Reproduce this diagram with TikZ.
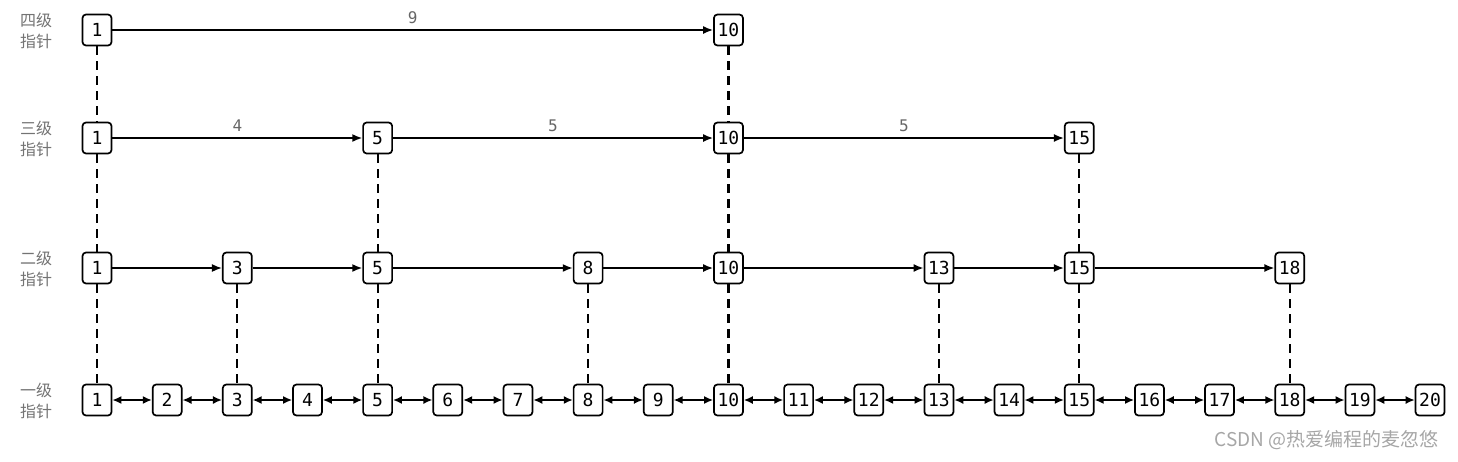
\documentclass[tikz,border=0pt]{standalone}
\usepackage{fontspec}
\setmonofont{DejaVu Sans Mono}
\newfontfamily\cjk{Noto Sans CJK SC}
\usetikzlibrary{arrows.meta}
\begin{document}
\begin{tikzpicture}[x=1pt,y=-1pt,
 box/.style={draw,line width=1.7pt,rounded corners=3.5pt,minimum width=29pt,minimum height=31pt,inner sep=0pt,font=\ttfamily\fontsize{18}{18}\selectfont,fill=white},
 link/.style={line width=1.6pt,-{Latex[length=10pt,width=8pt]}},
 dlink/.style={line width=1.6pt,{Latex[length=9pt,width=8pt]}-{Latex[length=9pt,width=8pt]}},
 vdash/.style={line width=2.1pt,dash pattern=on 9pt off 6pt},
 lvl/.style={font=\cjk\fontsize{16}{21}\selectfont,text=black!55,align=center},
 wlabel/.style={font=\ttfamily\fontsize{16}{16}\selectfont,text=black!60},
 wm/.style={font=\cjk\fontsize{19}{19}\selectfont,text=black!35}]
\useasboundingbox (0,0) rectangle (1458,461);
% level labels
\node[lvl] (L4) at (36,31) {四级\\指针};
\node[lvl] (L3) at (36,139) {三级\\指针};
\node[lvl] (L2) at (36,269) {二级\\指针};
\node[lvl] (L1) at (36,401) {一级\\指针};
% level 1
\foreach \i in {1,...,20} \node[box] (a\i) at ({97+(\i-1)*70.16},400) {\i};
\foreach \i [evaluate=\i as \j using int(\i+1)] in {1,...,19} \draw[dlink] (a\i) -- (a\j);
% level 2
\foreach \i in {1,3,5,8,10,13,15,18} {
  \node[box] (b\i) at ({97+(\i-1)*70.16},268) {\i};
  \draw[vdash] (b\i) -- (a\i);
}
\foreach \i/\j in {1/3,3/5,5/8,8/10,10/13,13/15,15/18} \draw[link] (b\i) -- (b\j);
% level 3
\foreach \i in {1,5,10,15} {
  \node[box] (c\i) at ({97+(\i-1)*70.16},138) {\i};
  \draw[vdash] (c\i) -- (b\i);
}
\foreach \i/\j/\w in {1/5/4,5/10/5,10/15/5} \draw[link] (c\i) -- node[wlabel,midway,above=2pt] {\w} (c\j);
% level 4
\foreach \i in {1,10} {
  \node[box] (d\i) at ({97+(\i-1)*70.16},30) {\i};
  \draw[vdash] (d\i) -- (c\i);
}
\draw[link] (d1) -- node[wlabel,midway,above=2pt] {9} (d10);
% watermark
\node[wm,anchor=east] (wmk) at (1442,440) {CSDN @热爱编程的麦忽悠};
\end{tikzpicture}
\end{document}
